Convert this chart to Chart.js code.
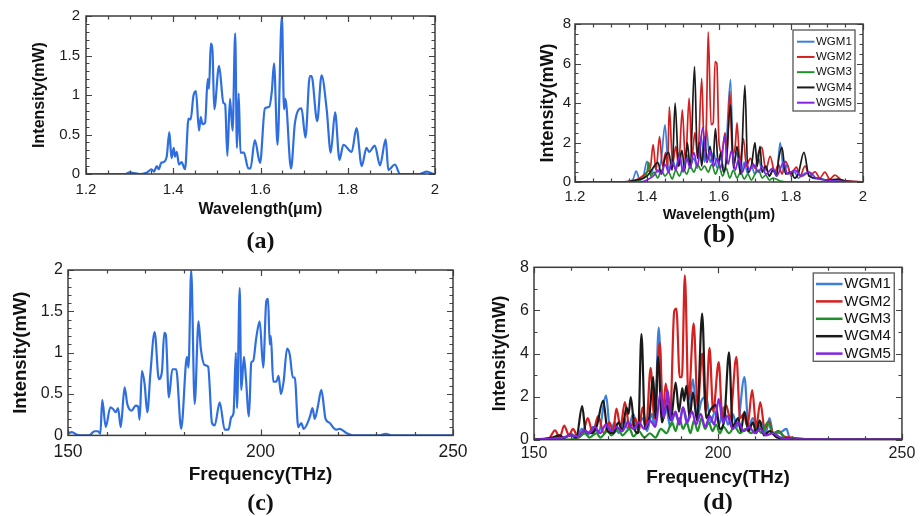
<!DOCTYPE html>
<html><head><meta charset="utf-8">
<script src="https://cdn.jsdelivr.net/npm/chart.js@4"></script>
<style>
html,body{margin:0;padding:0;background:#fff;width:920px;height:516px;overflow:hidden;position:relative}
canvas{position:absolute;display:block}
</style></head><body>
<canvas id="ca" width="460" height="258" style="left:0;top:0"></canvas>
<canvas id="cb" width="460" height="258" style="left:460px;top:0"></canvas>
<canvas id="cc" width="480" height="266" style="left:0;top:250px"></canvas>
<canvas id="cd" width="450" height="266" style="left:470px;top:250px"></canvas>
<script>
// ---------- DATA ----------
// Panel (a): intensity (mW) vs wavelength (um)
const aSpectrum = [[1.2,0],[1.29,0],[1.3,0.02],[1.31,0.01],[1.325,0],[1.34,0.02],[1.35,0.06],[1.356,0.03],[1.362,0.1],[1.367,0.06],[1.372,0.14],[1.377,0.15],[1.385,0.22],[1.391,0.53],[1.396,0.2],[1.401,0.33],[1.404,0.22],[1.408,0.28],[1.413,0.12],[1.419,0.15],[1.427,0.06],[1.435,0.7],[1.44,0.69],[1.446,0.98],[1.452,1.05],[1.459,0.55],[1.463,0.72],[1.467,0.63],[1.473,0.65],[1.479,1.2],[1.482,1.08],[1.486,1.65],[1.49,1.55],[1.494,0.82],[1.505,1.37],[1.515,0.9],[1.519,0.88],[1.524,0.23],[1.53,0.95],[1.536,0.55],[1.542,1.78],[1.546,0.33],[1.55,1.02],[1.554,0.27],[1.562,0.27],[1.572,0.07],[1.577,0.07],[1.587,0.43],[1.599,0.14],[1.61,0.83],[1.62,0.85],[1.626,1.05],[1.631,1.4],[1.639,0.37],[1.649,2.0],[1.654,0.82],[1.657,0.95],[1.67,0.07],[1.679,0.65],[1.694,0.83],[1.703,0.46],[1.713,1.24],[1.717,1.24],[1.73,0.67],[1.74,1.25],[1.752,0.8],[1.761,0.27],[1.771,0.78],[1.781,0.18],[1.79,0.37],[1.809,0.28],[1.82,0.58],[1.832,0.1],[1.843,0.33],[1.849,0.28],[1.862,0.36],[1.874,0.11],[1.887,0.44],[1.893,0.05],[1.908,0.12],[1.92,0],[1.965,0],[1.981,0.03],[1.996,0]];

// Panel (b): five WGM modes vs wavelength (um)
const bWGM1 = [[1.2,0],[1.34,0],[1.36,0.1],[1.37,0.55],[1.38,0.1],[1.39,0.3],[1.40,1.05],[1.41,0.4],[1.42,0.8],[1.43,0.5],[1.44,1.2],[1.45,2.9],[1.46,0.6],[1.47,1.2],[1.48,0.7],[1.49,1.5],[1.50,0.6],[1.51,1.4],[1.52,0.8],[1.53,1.2],[1.54,0.7],[1.55,2.3],[1.56,1.0],[1.565,2.7],[1.575,1.0],[1.585,1.5],[1.595,0.7],[1.605,1.2],[1.615,0.6],[1.632,5.2],[1.64,0.8],[1.65,1.5],[1.66,0.4],[1.67,1.0],[1.68,0.4],[1.69,0.8],[1.70,0.4],[1.71,1.2],[1.72,0.5],[1.73,0.7],[1.74,0.3],[1.75,0.6],[1.76,0.4],[1.77,2.0],[1.78,0.5],[1.79,0.9],[1.80,0.3],[1.81,0.5],[1.82,0.2],[1.835,0.4],[1.85,0.5],[1.86,0.2],[1.88,0.15],[1.90,0.1],[1.95,0.05],[2.0,0]];
const bWGM2 = [[1.2,0],[1.3,0],[1.36,0.05],[1.38,0.2],[1.40,0.5],[1.41,0.8],[1.417,1.9],[1.425,0.6],[1.435,2.3],[1.443,0.8],[1.452,1.5],[1.457,0.7],[1.462,3.8],[1.471,0.9],[1.48,1.8],[1.488,0.8],[1.498,3.65],[1.507,1.0],[1.517,4.25],[1.525,1.3],[1.533,2.5],[1.541,1.2],[1.552,5.25],[1.559,1.6],[1.565,3.0],[1.570,7.6],[1.578,2.9],[1.584,3.0],[1.589,6.1],[1.594,6.0],[1.6,2.0],[1.608,1.5],[1.617,2.5],[1.622,1.2],[1.63,4.6],[1.637,1.4],[1.645,1.8],[1.65,3.0],[1.658,1.0],[1.668,2.2],[1.676,0.8],[1.687,1.2],[1.70,0.7],[1.71,1.5],[1.719,1.75],[1.73,0.6],[1.742,1.3],[1.755,0.5],[1.765,0.9],[1.775,0.4],[1.785,1.05],[1.80,0.4],[1.815,0.75],[1.825,0.3],[1.839,0.8],[1.852,0.3],[1.867,0.52],[1.88,0.2],[1.894,0.5],[1.908,0.15],[1.922,0.35],[1.94,0.1],[1.96,0.05],[2.0,0]];
const bWGM3 = [[1.2,0],[1.36,0],[1.38,0.1],[1.40,0.5],[1.405,1.0],[1.41,0.3],[1.42,0.5],[1.43,0.2],[1.44,0.6],[1.45,0.3],[1.46,0.5],[1.47,0.15],[1.48,0.6],[1.49,0.3],[1.50,0.7],[1.51,0.4],[1.52,0.8],[1.53,0.5],[1.54,0.9],[1.55,0.6],[1.56,0.8],[1.57,0.5],[1.58,0.9],[1.59,0.4],[1.60,0.8],[1.61,0.3],[1.62,0.7],[1.63,0.2],[1.64,0.6],[1.65,0.2],[1.66,0.5],[1.67,0.15],[1.68,0.4],[1.69,0.1],[1.70,0.4],[1.71,0.6],[1.72,0.2],[1.73,0.35],[1.74,0.1],[1.75,0.2],[1.77,0.05],[1.80,0],[2.0,0]];
const bWGM4 = [[1.2,0],[1.33,0],[1.37,0.1],[1.40,0.3],[1.42,0.8],[1.43,1.0],[1.44,0.4],[1.45,1.2],[1.46,1.5],[1.47,0.6],[1.478,4.0],[1.488,0.8],[1.497,1.6],[1.505,0.6],[1.512,2.0],[1.52,0.7],[1.532,5.84],[1.54,1.2],[1.546,2.0],[1.552,0.8],[1.56,2.3],[1.567,1.0],[1.575,1.8],[1.583,0.9],[1.59,2.7],[1.598,0.9],[1.605,1.5],[1.612,0.5],[1.62,1.0],[1.632,3.9],[1.64,0.7],[1.65,1.8],[1.66,0.4],[1.672,4.9],[1.68,0.5],[1.69,0.8],[1.70,2.0],[1.706,0.8],[1.714,1.8],[1.72,0.5],[1.73,0.8],[1.74,0.3],[1.75,0.6],[1.76,0.3],[1.766,1.2],[1.775,1.75],[1.785,0.4],[1.80,0.5],[1.81,0.2],[1.82,0.4],[1.836,1.5],[1.85,0.3],[1.87,0.2],[1.90,0.1],[1.93,0.15],[1.95,0.05],[2.0,0]];
const bWGM5 = [[1.2,0],[1.38,0],[1.40,0.1],[1.42,0.35],[1.43,0.6],[1.44,0.4],[1.45,0.9],[1.46,0.5],[1.47,1.0],[1.48,0.6],[1.49,1.3],[1.50,0.5],[1.51,1.2],[1.52,0.7],[1.53,1.5],[1.54,0.8],[1.555,2.75],[1.565,1.0],[1.575,1.6],[1.585,0.8],[1.595,1.2],[1.605,0.7],[1.615,2.3],[1.625,0.9],[1.635,1.6],[1.645,0.6],[1.655,1.2],[1.665,0.5],[1.675,1.0],[1.685,0.6],[1.695,0.9],[1.71,0.5],[1.72,0.8],[1.73,0.4],[1.75,0.7],[1.76,0.3],[1.78,1.0],[1.79,0.4],[1.81,0.6],[1.83,0.3],[1.85,0.5],[1.87,0.2],[1.90,0.1],[1.95,0.02],[2.0,0]];

// Panel (c): intensity (mW) vs frequency (THz)
const cSpectrum = [[150,0.02],[151,0.04],[152.2,0.01],[153,0],[155.5,0],[156.9,0.05],[157.8,0.05],[158.4,0.02],[158.9,0.43],[159.8,0.1],[161,0.34],[161.7,0.32],[162.4,0.28],[163,0.33],[163.7,0.1],[164.7,0.58],[165.4,0.38],[166.5,0.3],[167.6,0.36],[168.2,0.35],[168.6,0.19],[169.2,0.78],[169.9,0.62],[170.6,0.28],[171.4,0.75],[172.5,1.25],[173.6,0.68],[174.4,0.77],[175,1.24],[175.4,1.22],[176.2,0.46],[177.1,0.8],[178.1,0.8],[179.4,0.08],[180.9,0.95],[181.3,0.82],[182,2.0],[182.9,0.38],[183.9,1.38],[184.5,1.05],[185.5,0.85],[186.4,0.83],[187.4,0.15],[188.1,0.12],[189.4,0.4],[190.7,0.07],[191.7,0.07],[192.4,0.22],[193,0.27],[193.6,1.0],[193.9,0.33],[194.6,1.78],[195,0.55],[195.7,0.95],[196.2,0.7],[197,0.23],[197.6,0.88],[198.1,0.9],[198.9,1.18],[199.8,1.38],[200.7,0.82],[201.5,1.62],[201.96,1.65],[202.4,1.1],[202.7,1.2],[203.3,0.65],[204.1,0.65],[204.7,0.72],[205.3,0.5],[206,0.65],[206.9,1.05],[207.6,0.98],[208.4,0.7],[208.9,0.7],[209.8,0.1],[210.6,0.15],[211.2,0.08],[212.8,0.22],[213.5,0.33],[214.1,0.2],[214.9,0.35],[215.8,0.55],[216.9,0.2],[218,0.15],[218.8,0.1],[219.7,0.07],[220.6,0.08],[222.3,0.03],[224,0],[231,0],[232.5,0.02],[234,0],[250,0]];

// Panel (d): five WGM modes vs frequency (THz)
const dWGM1 = [[150,0],[155,0.05],[157,0.2],[158,0.05],[160,0.3],[161.5,0.1],[163,0.5],[164.5,0.2],[166,0.6],[167.5,0.3],[169.6,2.05],[170.7,0.4],[172,0.8],[173,0.3],[174.5,1.0],[175.5,0.5],[177,1.2],[178,0.5],[179.5,1.0],[180.7,0.4],[182,1.2],[182.8,0.6],[183.9,5.2],[185,1.0],[186,1.4],[187,0.6],[188.3,1.2],[189.5,0.8],[190.5,1.5],[191.8,0.8],[193.2,2.8],[194.3,1.0],[195.5,1.8],[196.8,2.0],[198,0.8],[199.2,1.3],[200.3,0.7],[201.5,1.5],[202.7,0.7],[204,1.2],[205.2,0.6],[207.2,2.9],[208.3,0.6],[209.5,1.0],[210.7,0.4],[212,0.8],[213,0.3],[214,1.0],[215,0.3],[216.5,0.3],[218.6,0.5],[219.5,0.1],[222,0.05],[225,0],[250,0]];
const dWGM2 = [[150,0],[154,0.05],[155.7,0.43],[157,0.1],[158.2,0.66],[159.5,0.2],[160.6,0.5],[162,0.1],[163.5,0.4],[164.6,1.0],[166,0.3],[167.4,1.1],[169,0.3],[170.5,0.8],[171.5,0.4],[172.4,1.44],[173.5,0.6],[174.7,1.75],[176,0.5],[177.5,1.0],[178.5,0.4],[179.5,1.5],[180.5,0.6],[181.7,3.33],[182.7,1.0],[184.2,4.5],[185,1.2],[185.8,2.6],[187,1.0],[188.1,5.95],[188.7,6.08],[189.6,2.9],[190.2,2.9],[191,7.63],[192,1.8],[193.4,5.4],[194.5,1.5],[195.7,4.0],[196.7,1.3],[197.7,4.26],[198.7,1.3],[200.2,3.6],[201.2,1.0],[202.2,1.6],[203.3,1.0],[205,3.84],[206,1.0],[207,1.2],[208,0.6],[209.3,2.3],[210.4,0.6],[211.5,1.75],[212.7,0.5],[213.8,0.85],[215,0.3],[216.5,0.4],[218,0.15],[220,0.1],[222,0.05],[230,0],[250,0]];
const dWGM3 = [[150,0],[160,0],[162,0.1],[164,0.3],[165,0.1],[167,0.3],[168,0.1],[170,0.4],[171,0.2],[173,0.5],[174,0.2],[176,0.5],[177,0.15],[178.5,0.4],[180,0.1],[181.5,0.3],[183,0.1],[184.5,0.5],[186,0.3],[187.5,0.8],[188.5,0.4],[189.5,1.0],[190.5,0.5],[191.5,0.8],[192.5,0.3],[193.5,0.9],[194.5,0.4],[195.5,1.0],[196.5,0.5],[197.5,0.8],[198.5,0.4],[199.5,0.7],[200.5,0.3],[201.5,0.6],[203,0.3],[204.5,0.6],[206,0.3],[207.5,0.5],[209,0.3],[210.5,0.5],[212,0.3],[213.5,0.8],[215,0.3],[216.5,0.4],[218,0.1],[220,0.05],[225,0],[250,0]];
const dWGM4 = [[150,0],[155,0.1],[157,0.2],[158,0.1],[160,0.2],[161.5,0.1],[163.1,1.56],[164,0.4],[165.5,0.3],[167,0.6],[168.8,1.82],[170,0.4],[171.5,0.3],[173,0.8],[174,0.4],[175.1,1.5],[175.7,1.2],[176.3,1.98],[177.3,0.5],[178.3,0.3],[179.2,4.9],[180.2,0.5],[181.3,1.0],[182.4,2.9],[183,1.0],[183.7,3.85],[184.8,0.8],[186,1.6],[187.2,0.9],[188.5,2.65],[189.4,1.3],[190.3,2.4],[190.8,1.8],[191.4,2.5],[192.3,1.0],[193.2,2.2],[194.3,0.9],[195.7,5.85],[196.8,1.0],[198,1.4],[199.4,1.6],[200.5,0.5],[201.7,0.9],[203,4.05],[204,0.6],[205.5,1.0],[206.2,0.4],[207.2,1.3],[208.3,0.4],[209.5,0.8],[210.4,0.3],[211.3,0.9],[212.5,0.2],[214,0.4],[216,0.1],[219,0.05],[222,0],[250,0]];
const dWGM5 = [[150,0],[155,0.05],[158,0.1],[160,0.2],[162,0.15],[163.5,0.45],[165,0.3],[166.5,0.6],[168,0.3],[169.5,0.7],[171,0.4],[172.5,0.6],[174,0.4],[175.5,0.8],[177,0.5],[178.5,0.8],[180,0.5],[181.5,0.9],[183,0.6],[184.4,2.2],[185.3,1.0],[186.3,2.3],[187.3,0.9],[188.5,1.3],[189.5,0.7],[190.5,1.5],[191.5,0.8],[193,1.3],[194,0.7],[195.3,1.2],[196.5,0.6],[197.8,1.1],[199,0.7],[200.2,1.9],[201.3,0.8],[202.5,1.1],[204,0.5],[205.5,0.8],[207,0.4],[208.5,0.6],[210,0.3],[211.5,0.5],[213,0.2],[215,0.3],[217,0.1],[220,0.02],[250,0]];

const modeLabels = ['WGM1','WGM2','WGM3','WGM4','WGM5'];
const modeColors = ['#3b7fd9','#d42020','#1f8f2a','#1a1a1a','#8424e0'];

const wavelengthTicks = [1.2,1.4,1.6,1.8,2];
const frequencyTicks = [150,200,250];
const smallIntensityTicks = [0,0.5,1,1.5,2];
const bigIntensityTicks = [0,2,4,6,8];

// ---------- RENDERING ----------
const SANS = '"Liberation Sans", Arial, Helvetica, sans-serif';
const SERIF = '"Liberation Serif", "Times New Roman", serif';
const toPts = arr => arr.map(([x, y]) => ({x, y}));

const boxTicks = {
  id: 'boxTicks',
  afterDatasetsDraw(chart, args, o) {
    const {ctx, chartArea: a} = chart;
    const sx = chart.scales.x, sy = chart.scales.y;
    const seq = (min, max, step) => { const n = Math.round((max - min) / step); const r = []; for (let i = 0; i <= n; i++) r.push(min + i * step); return r; };
    const major = (v, list) => list.some(m => Math.abs(m - v) < 1e-6);
    ctx.save();
    ctx.strokeStyle = '#444';
    ctx.lineWidth = 1.2;
    ctx.beginPath();
    for (const v of seq(sx.min, sx.max, o.xMinor)) {
      const p = Math.round(sx.getPixelForValue(v)) + 0.5;
      const len = major(v, o.xMajor) ? 6 : 3.5;
      ctx.moveTo(p, a.bottom); ctx.lineTo(p, a.bottom - len);
      ctx.moveTo(p, a.top); ctx.lineTo(p, a.top + len);
    }
    for (const v of seq(sy.min, sy.max, o.yMinor)) {
      const p = Math.round(sy.getPixelForValue(v)) + 0.5;
      const len = major(v, o.yMajor) ? 6 : 3.5;
      ctx.moveTo(a.left, p); ctx.lineTo(a.left + len, p);
      ctx.moveTo(a.right, p); ctx.lineTo(a.right - len, p);
    }
    ctx.stroke();
    ctx.lineWidth = 1.5;
    ctx.strokeStyle = '#3c3c3c';
    ctx.strokeRect(a.left, a.top, a.right - a.left, a.bottom - a.top);
    ctx.restore();
  }
};

const boxLegend = {
  id: 'boxLegend',
  afterDraw(chart, args, o) {
    if (!o.show) return;
    const {ctx, chartArea: a} = chart;
    const left = a.right - o.right - o.width;
    const top = a.top + o.top;
    ctx.save();
    ctx.fillStyle = '#fff';
    ctx.fillRect(left, top, o.width, o.height);
    ctx.strokeStyle = '#555';
    ctx.lineWidth = 1.3;
    ctx.strokeRect(left, top, o.width, o.height);
    ctx.font = o.fontSize + 'px ' + SANS;
    ctx.textBaseline = 'middle';
    chart.data.datasets.forEach((d, i) => {
      const y = top + o.first + i * o.gap;
      ctx.strokeStyle = d.borderColor;
      ctx.lineWidth = o.lw;
      ctx.beginPath();
      ctx.moveTo(left + o.l0, y); ctx.lineTo(left + o.l1, y);
      ctx.stroke();
      ctx.fillStyle = '#111';
      ctx.fillText(d.label, left + o.tx, y);
    });
    ctx.restore();
  }
};

function panel(id, p) {
  return new Chart(document.getElementById(id), {
    type: 'line',
    data: { datasets: p.datasets },
    options: {
      responsive: false,
      animation: false,
      events: [],
      layout: { padding: { top: p.padTop, right: p.padRight, left: 0, bottom: 0 } },
      elements: {
        point: { radius: 0 },
        line: { cubicInterpolationMode: 'monotone', borderJoinStyle: 'round', borderCapStyle: 'round' }
      },
      scales: {
        x: {
          type: 'linear', min: p.xMin, max: p.xMax,
          afterBuildTicks: s => { s.ticks = p.xTicks.map(v => ({value: v})); },
          afterFit: s => { s.height = p.xHeight; },
          grid: { display: false, drawTicks: false },
          border: { display: false },
          ticks: { padding: p.xTickPad, color: '#1c1c1c', maxRotation: 0, autoSkip: false,
                   font: { family: SANS, size: p.xTickSize }, callback: v => String(v) },
          title: { display: true, text: p.xTitle, color: '#111', padding: 0,
                   font: { family: SANS, size: p.xTitleSize, weight: 'bold', lineHeight: 1 } }
        },
        y: {
          type: 'linear', min: p.yMin, max: p.yMax,
          afterBuildTicks: s => { s.ticks = p.yTicks.map(v => ({value: v})); },
          afterFit: s => { s.width = p.yWidth; },
          grid: { display: false, drawTicks: false },
          border: { display: false },
          ticks: { padding: p.yTickPad, color: '#1c1c1c', autoSkip: false,
                   font: { family: SANS, size: p.yTickSize }, callback: v => String(v) },
          title: { display: true, text: 'Intensity(mW)', color: '#111', padding: { top: p.yTitlePad, bottom: 0 },
                   font: { family: SANS, size: p.yTitleSize, weight: 'bold', lineHeight: 1 } }
        }
      },
      plugins: {
        legend: { display: false },
        tooltip: { enabled: false },
        title: { display: true, position: 'bottom', fullSize: false, text: p.label, color: '#111',
                 padding: { top: p.labelPadTop, bottom: p.labelPadBottom },
                 font: { family: SERIF, size: p.labelSize, weight: 'bold', lineHeight: 1 } },
        boxTicks: p.boxTicks,
        boxLegend: p.legend || { show: false }
      }
    },
    plugins: [boxTicks, boxLegend]
  });
}

function modeSets(series, width) {
  return series.map((s, i) => ({
    label: modeLabels[i], data: toPts(s), borderColor: modeColors[i],
    borderWidth: width, fill: false, order: series.length - 1 - i
  }));
}

panel('ca', {
  datasets: [{ label: 'Intensity', data: toPts(aSpectrum), borderColor: '#2f6ee0', borderWidth: 2.2, fill: false }],
  padTop: 16, padRight: 25, yWidth: 86, xHeight: 44,
  xMin: 1.2, xMax: 2, xTicks: wavelengthTicks, xTickSize: 15, xTickPad: 7,
  xTitle: 'Wavelength(\u03bcm)', xTitleSize: 16,
  yMin: 0, yMax: 2, yTicks: smallIntensityTicks, yTickSize: 15, yTickPad: 6,
  yTitleSize: 16, yTitlePad: 32,
  label: '(a)', labelSize: 24, labelPadTop: 11.7, labelPadBottom: 4.3,
  boxTicks: { xMinor: 0.05, xMajor: wavelengthTicks, yMinor: 0.1, yMajor: smallIntensityTicks }
});

panel('cb', {
  datasets: modeSets([bWGM1, bWGM2, bWGM3, bWGM4, bWGM5], 1.7),
  padTop: 24, padRight: 57, yWidth: 115, xHeight: 40.25,
  xMin: 1.2, xMax: 2, xTicks: wavelengthTicks, xTickSize: 15, xTickPad: 5.7,
  xTitle: 'Wavelength(\u03bcm)', xTitleSize: 14.5,
  yMin: 0, yMax: 8, yTicks: bigIntensityTicks, yTickSize: 15, yTickPad: 4,
  yTitleSize: 18, yTitlePad: 79.5,
  label: '(b)', labelSize: 26, labelPadTop: 0, labelPadBottom: 9.75,
  boxTicks: { xMinor: 0.05, xMajor: wavelengthTicks, yMinor: 0.5, yMajor: bigIntensityTicks },
  legend: { show: true, right: 8, top: 6, width: 62, height: 81, first: 11.7, gap: 15.25,
            l0: 4, l1: 21.5, tx: 23, fontSize: 11.5, lw: 2 }
});

panel('cc', {
  datasets: [{ label: 'Intensity', data: toPts(cSpectrum), borderColor: '#2f6ee0', borderWidth: 2.2, fill: false }],
  padTop: 20, padRight: 27, yWidth: 68, xHeight: 48.8,
  xMin: 150, xMax: 250, xTicks: frequencyTicks, xTickSize: 17.5, xTickPad: 6.1,
  xTitle: 'Frequency(THz)', xTitleSize: 19,
  yMin: 0, yMax: 2, yTicks: smallIntensityTicks, yTickSize: 16, yTickPad: 5,
  yTitleSize: 18.5, yTitlePad: 11.5,
  label: '(c)', labelSize: 24, labelPadTop: 7.8, labelPadBottom: 0,
  boxTicks: { xMinor: 10, xMajor: frequencyTicks, yMinor: 0.1, yMajor: smallIntensityTicks }
});

panel('cd', {
  datasets: modeSets([dWGM1, dWGM2, dWGM3, dWGM4, dWGM5], 2.2),
  padTop: 17.3, padRight: 17.3, yWidth: 64, xHeight: 47.8,
  xMin: 150, xMax: 250, xTicks: frequencyTicks, xTickSize: 16, xTickPad: 4.7,
  xTitle: 'Frequency(THz)', xTitleSize: 19,
  yMin: 0, yMax: 8, yTicks: bigIntensityTicks, yTickSize: 16, yTickPad: 5,
  yTitleSize: 17.5, yTitlePad: 21.25,
  label: '(d)', labelSize: 24, labelPadTop: 3.5, labelPadBottom: 1,
  boxTicks: { xMinor: 10, xMajor: frequencyTicks, yMinor: 1, yMajor: bigIntensityTicks },
  legend: { show: true, right: 7.7, top: 5.7, width: 81, height: 88.3, first: 11, gap: 17.4,
            l0: 2.7, l1: 29.3, tx: 31, fontSize: 15, lw: 2.5 }
});
</script>
</body></html>
